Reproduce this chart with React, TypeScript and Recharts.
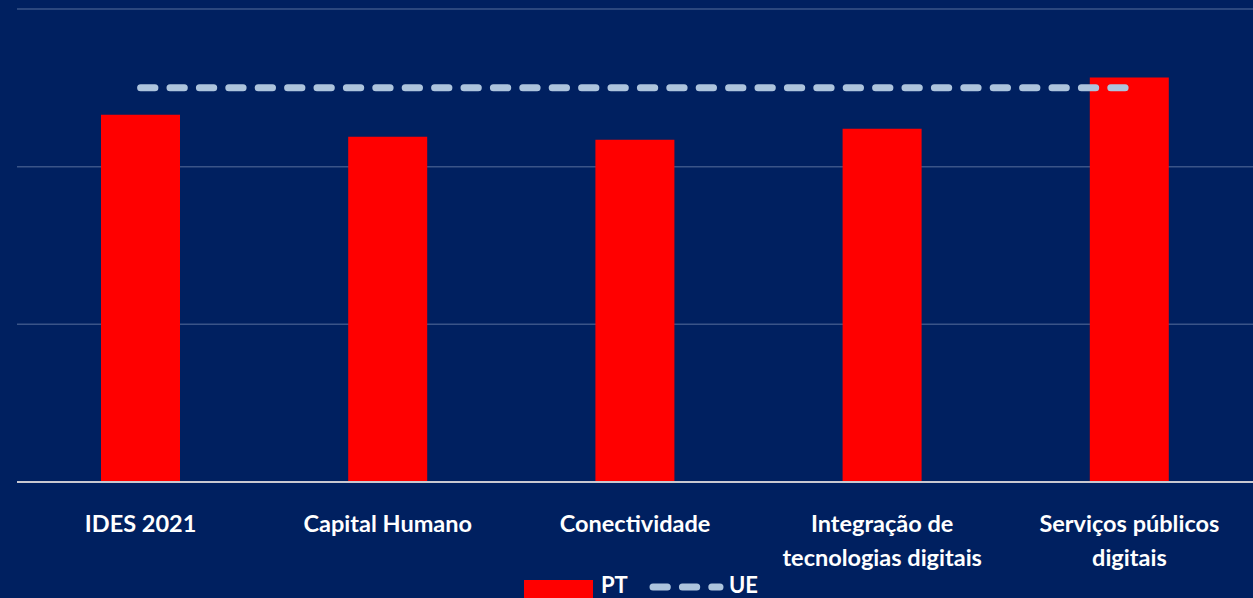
import { ComposedChart, Bar, Line, XAxis, YAxis, CartesianGrid } from "recharts";

const categories = [
  "IDES 2021",
  "Capital Humano",
  "Conectividade",
  "Integração de\ntecnologias digitais",
  "Serviços públicos\ndigitais",
];
const ptValues = [46.6, 43.8, 43.4, 44.8, 51.3];
const ueValues = [50.0, 50.0, 50.0, 50.0, 50.0];
const yTicks = [0, 20, 40, 60];

const data = categories.map((name, i) => ({ name, PT: ptValues[i], UE: ueValues[i] }));

const FONT = "Lato, 'Open Sans', sans-serif";

function CategoryTick({ x, y, payload }: any) {
  const lines = String(payload.value).split("\n");
  return (
    <text
      x={x}
      y={y}
      textAnchor="middle"
      fill="#ffffff"
      fontFamily={FONT}
      fontWeight={700}
      fontSize={23.5}
    >
      {lines.map((line, i) => (
        <tspan key={i} x={x} dy={i === 0 ? 42 : 34}>
          {line}
        </tspan>
      ))}
    </text>
  );
}

export default function App() {
  return (
    <div
      style={{
        position: "absolute",
        left: 0,
        top: 0,
        width: 1253,
        height: 598,
        background: "#002060",
        overflow: "hidden",
      }}
    >
      <ComposedChart
        width={1253}
        height={598}
        data={data}
        margin={{ top: 9, right: 0, left: 17, bottom: 86 }}
        barCategoryGap={0}
      >
        <CartesianGrid vertical={false} stroke="#3a5488" strokeWidth={1.5} />
        <YAxis hide domain={[0, 60]} ticks={yTicks} />
        <XAxis
          dataKey="name"
          height={30}
          interval={0}
          tickLine={false}
          axisLine={{ stroke: "#c8c8d0", strokeWidth: 2 }}
          tick={<CategoryTick />}
        />
        <Bar dataKey="PT" fill="#ff0000" barSize={79} isAnimationActive={false} />
        <Line
          dataKey="UE"
          stroke="#adc4dd"
          strokeWidth={7}
          strokeDasharray="14.3 15.1"
          strokeLinecap="round"
          dot={false}
          activeDot={false}
          isAnimationActive={false}
        />
      </ComposedChart>
      <svg
        width={1253}
        height={28}
        style={{ position: "absolute", left: 0, top: 570 }}
      >
        <rect x={524} y={10} width={69} height={18} fill="#ff0000" />
        <text x={601} y={23} fill="#ffffff" fontFamily={FONT} fontWeight={700} fontSize={22}>
          PT
        </text>
        <line
          x1={653}
          y1={17}
          x2={720}
          y2={17}
          stroke="#adc4dd"
          strokeWidth={7}
          strokeDasharray="14.3 15.1"
          strokeLinecap="round"
        />
        <text x={729} y={23} fill="#ffffff" fontFamily={FONT} fontWeight={700} fontSize={22}>
          UE
        </text>
      </svg>
    </div>
  );
}
